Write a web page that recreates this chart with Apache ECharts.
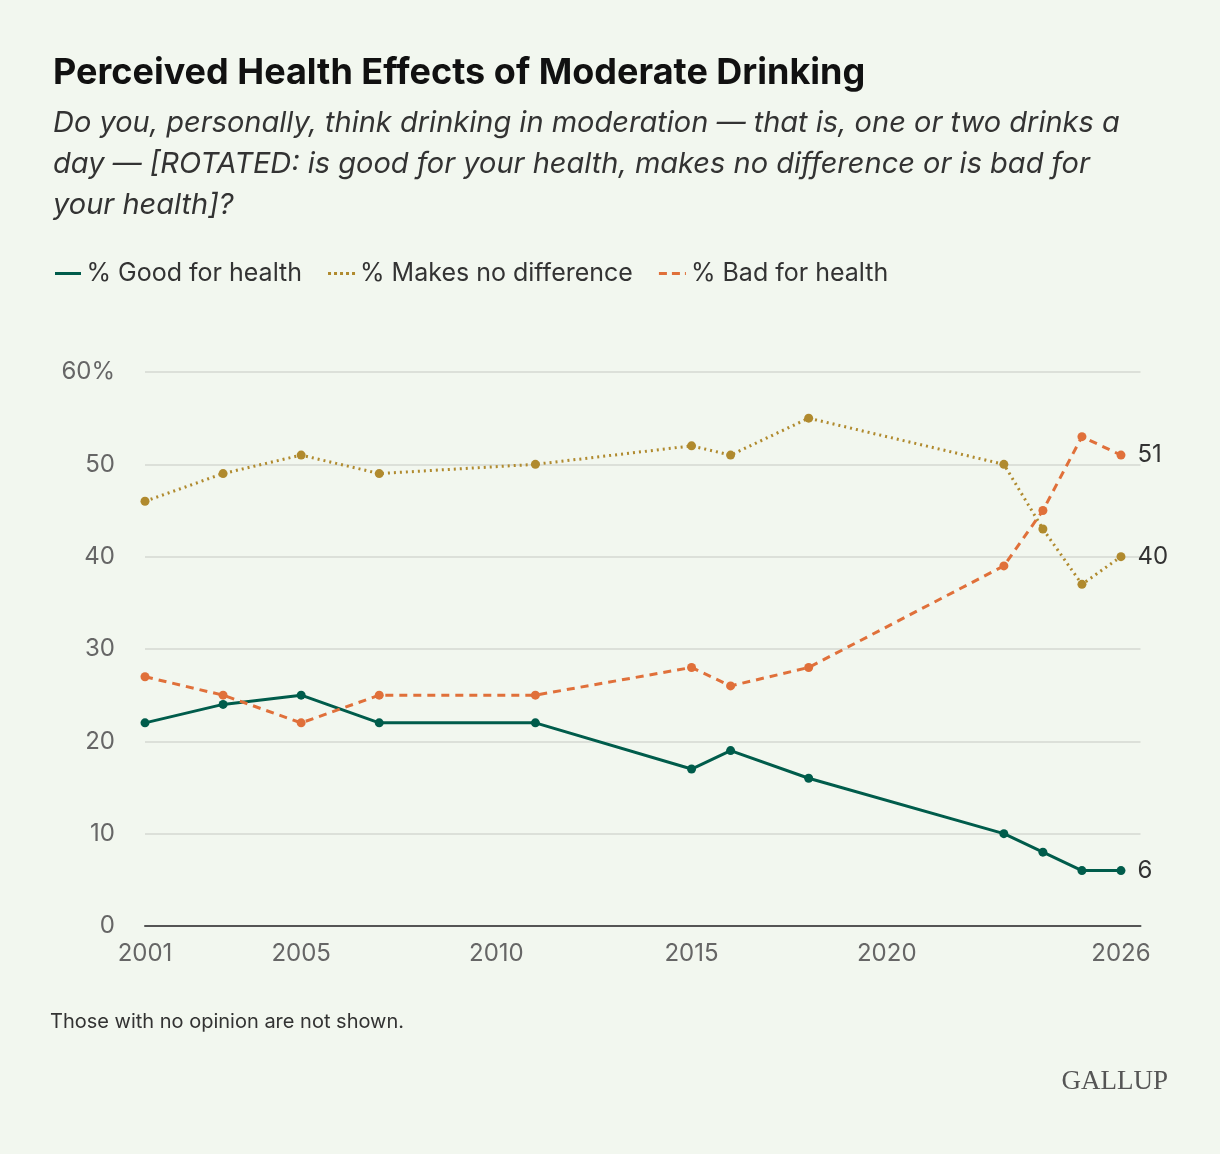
<!DOCTYPE html>
<html><head><meta charset="utf-8">
<script src="https://cdn.jsdelivr.net/npm/echarts@6/dist/echarts.min.js"></script>
<style>html,body{margin:0;padding:0;background:#f2f7ef;}#c{width:1220px;height:1154px;}</style>
</head><body><div id="c"></div>
<script>
const years = [2001,2003,2005,2007,2011,2015,2016,2018,2023,2024,2025,2026];
const good = [22,24,25,22,22,17,19,16,10,8,6,6];
const noDiff = [46,49,51,49,50,52,51,55,50,43,37,40];
const bad = [27,25,22,25,25,28,26,28,39,45,53,51];
const xTicks = [2001,2005,2010,2015,2020,2026];
const names = ['% Good for health','% Makes no difference','% Bad for health'];
const colors = ['#005c4b','#b08a2e','#e0703a'];
const icons = [
  'path://M0 0H26V3H0Z',
  'path://M0 0H3V3H0ZM6 0H9V3H6ZM12 0H15V3H12ZM18 0H21V3H18ZM24 0H27V3H24Z',
  'path://M0 0H8V3H0ZM13 0H21V3H13ZM26 0H27V3H26Z'
];
const font = 'Inter, "Noto Sans", sans-serif';
function pts(arr){return years.map((y,i)=>[y,arr[i]]);}
function ser(i,arr,type,width){
  return {name:names[i],type:'line',data:pts(arr),symbol:'circle',symbolSize:9,
    lineStyle:{color:colors[i],width:width,type:type},itemStyle:{color:colors[i]},
    label:{show:true,position:'right',distance:12,fontSize:24,color:'#333',fontFamily:font,
      formatter:p=>p.dataIndex===years.length-1?p.value[1]:''}};
}
const chart = echarts.init(document.getElementById('c'));
chart.setOption({
  backgroundColor:'#f2f7ef',
  animation:false,
  title:{text:'Perceived Health Effects of Moderate Drinking',left:48,top:50,
    textStyle:{fontSize:36,fontWeight:'bold',color:'#111',fontFamily:font},
    subtext:'Do you, personally, think drinking in moderation — that is, one or two drinks a\nday — [ROTATED: is good for your health, makes no difference or is bad for\nyour health]?',
    subtextStyle:{fontSize:29,fontStyle:'italic',color:'#333',lineHeight:41,fontFamily:font},itemGap:12},
  legend:{left:50,top:256,itemWidth:27,itemHeight:3,itemGap:26,
    textStyle:{fontSize:25,color:'#333',fontFamily:font},
    data:names.map((n,i)=>({name:n,icon:icons[i],itemStyle:{color:colors[i]}}))},
  grid:{left:145,top:372,width:995.5,height:554,containLabel:false},
  xAxis:{type:'value',min:2001,max:2026.5,interval:1,
    axisLine:{show:true,lineStyle:{color:'#555',width:2}},axisTick:{show:false},splitLine:{show:false},
    axisLabel:{fontSize:24,color:'#666',margin:16,fontFamily:font,showMaxLabel:false,
      formatter:v=>xTicks.includes(v)?String(v):''}},
  yAxis:{type:'value',min:0,max:60,interval:10,
    axisLine:{show:false},axisTick:{show:false},
    splitLine:{lineStyle:{color:'#d4d9d2',width:1.5}},
    axisLabel:{fontSize:24,color:'#666',margin:30,fontFamily:font,formatter:v=>v===60?'60%':String(v)}},
  series:[ser(0,good,'solid',3),ser(1,noDiff,[2,4],3),ser(2,bad,[8,6],3)],
  graphic:[
    {type:'text',left:50,top:1012,style:{text:'Those with no opinion are not shown.',fontSize:20,fill:'#333',fontFamily:font}},
    {type:'text',right:52,top:1068,style:{text:'GALLUP',fontSize:27,fill:'#555',fontFamily:'"Liberation Serif", serif'}}
  ]
});
</script></body></html>
